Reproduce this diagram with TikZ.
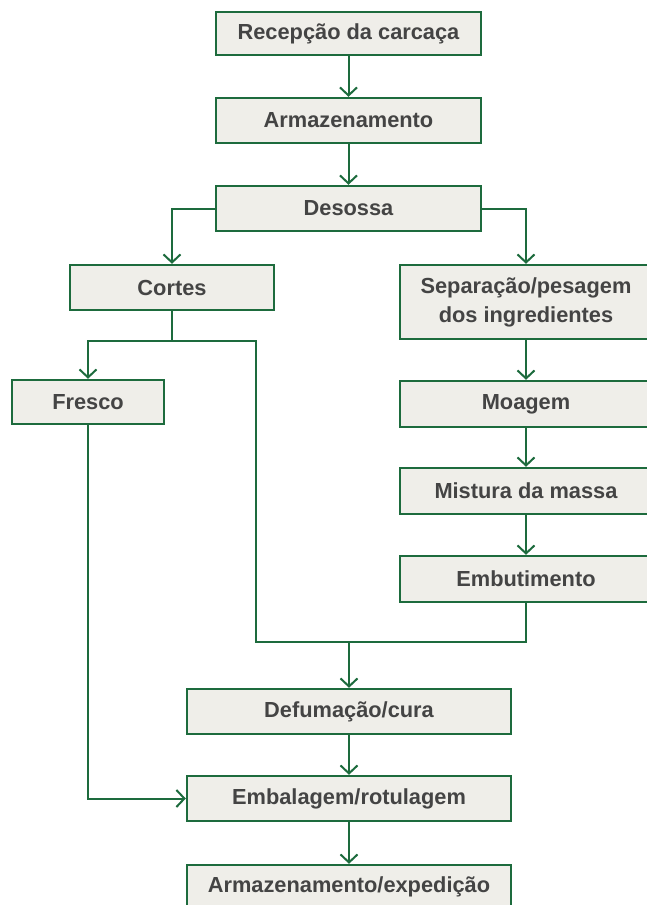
\documentclass[tikz,border=0pt]{standalone}
\usepackage{fontspec}
\setmainfont{Liberation Sans}
\usetikzlibrary{arrows.meta}
\definecolor{grn}{HTML}{1D6B3D}
\definecolor{boxfill}{HTML}{EFEEE9}
\definecolor{txt}{HTML}{444444}
\begin{document}
\begin{tikzpicture}[x=1pt,y=-1pt,
  stepbox/.style={draw=grn,line width=2.4pt,fill=boxfill,inner sep=0pt,
    text=txt,font=\fontsize{21.8}{29}\selectfont\bfseries,align=center},
  conn/.style={draw=grn,line width=2pt},
  arr/.style={conn,-{Straight Barb[length=8pt,width=17pt,line width=2pt]}}]
\useasboundingbox (0,0) rectangle (647,905);
\clip (0,0) rectangle (647,905);
\node[stepbox,minimum width=265pt,minimum height=43pt] (rec) at (348.5,33.5) {Recepção da carcaça};
\node[stepbox,minimum width=265pt,minimum height=45pt] (arm) at (348.5,120.5) {Armazenamento};
\node[stepbox,minimum width=265pt,minimum height=45pt] (des) at (348.5,208.5) {Desossa};
\node[stepbox,minimum width=204pt,minimum height=45pt] (cor) at (172,287.5) {Cortes};
\node[stepbox,minimum width=252pt,minimum height=74pt] (sep) at (526,302) {Separação/pesagem\\dos ingredientes};
\node[stepbox,minimum width=252pt,minimum height=46pt] (moa) at (526,404) {Moagem};
\node[stepbox,minimum width=252pt,minimum height=46pt] (mis) at (526,491) {Mistura da massa};
\node[stepbox,minimum width=252pt,minimum height=46pt] (emt) at (526,579) {Embutimento};
\node[stepbox,minimum width=152pt,minimum height=44pt] (fre) at (88,402) {Fresco};
\node[stepbox,minimum width=324pt,minimum height=45pt] (def) at (349,711.5) {Defumação/cura};
\node[stepbox,minimum width=324pt,minimum height=45pt] (emb) at (349,798.5) {Embalagem/rotulagem};
\node[stepbox,minimum width=324pt,minimum height=43pt] (exp) at (349,886.5) {Armazenamento/expedição};
\coordinate (j1) at (172,341);
\coordinate (jl) at (256,341);
\coordinate (jb) at (256,642);
\coordinate (jr) at (526,642);
\coordinate (jm) at (349,642);
\draw[arr] (rec) -- (arm);
\draw[arr] (arm) -- (des);
\draw[arr] (des.west) -| (cor.north);
\draw[arr] (des.east) -| (sep.north);
\draw[arr] (sep) -- (moa);
\draw[arr] (moa) -- (mis);
\draw[arr] (mis) -- (emt);
\draw[arr] (cor.south) -- (j1) -| (fre.north);
\draw[conn] (j1) -- (jl) -- (jb) -- (jr) -- (emt.south);
\draw[arr] (jm) -- (def.north);
\draw[arr] (fre.south) |- (emb.west);
\draw[arr] (def) -- (emb);
\draw[arr] (emb) -- (exp);
\end{tikzpicture}
\end{document}
